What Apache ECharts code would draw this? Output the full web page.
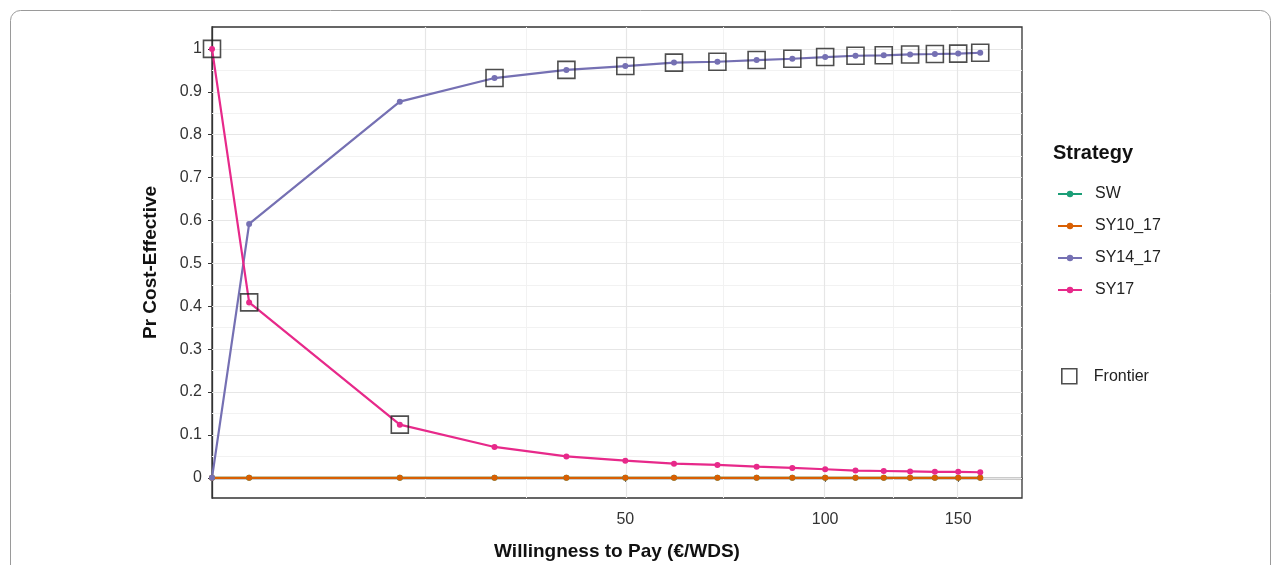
<!DOCTYPE html>
<html>
<head>
<meta charset="utf-8">
<script src="https://cdn.jsdelivr.net/npm/echarts@6/dist/echarts.min.js"></script>
<style>
  html, body { margin: 0; padding: 0; background: #fff; }
  #chart { width: 1281px; height: 565px; }
</style>
</head>
<body>
<div id="chart"></div>
<script>
// willingness to pay values (x)
const wtp = [0, 2.7, 16.6, 28.4, 39.4, 50, 60, 70, 80, 90, 100, 110, 120, 130, 140, 150, 160]
const strategies = ['SW', 'SY10_17', 'SY14_17', 'SY17']
const colors = ['#1B9E77', '#D95F02', '#7570B3', '#E7298A']
const sw = [0, 0, 0, 0, 0, 0, 0, 0, 0, 0, 0, 0, 0, 0, 0, 0, 0]
const sy10 = [0, 0, 0, 0, 0, 0, 0, 0, 0, 0, 0, 0, 0, 0, 0, 0, 0]
const sy14 = [0, 0.592, 0.877, 0.932, 0.951, 0.960, 0.968, 0.970, 0.974, 0.977, 0.981, 0.984, 0.985, 0.987, 0.988, 0.989, 0.991]
const sy17 = [1, 0.409, 0.124, 0.072, 0.050, 0.040, 0.033, 0.030, 0.026, 0.023, 0.020, 0.017, 0.016, 0.015, 0.014, 0.014, 0.013]
// strategy on the frontier at each wtp
const frontier = ['SY17', 'SY17', 'SY17', 'SY14_17', 'SY14_17', 'SY14_17', 'SY14_17', 'SY14_17', 'SY14_17',
  'SY14_17', 'SY14_17', 'SY14_17', 'SY14_17', 'SY14_17', 'SY14_17', 'SY14_17', 'SY14_17']
const xTicks = [50, 100, 150]
const yTicks = [0, 0.1, 0.2, 0.3, 0.4, 0.5, 0.6, 0.7, 0.8, 0.9, 1]

// x scale transform
const tx = v => Math.log(v + 28)
const values = { SW: sw, SY10_17: sy10, SY14_17: sy14, SY17: sy17 }

const font = 'Liberation Sans, Arial, sans-serif'

const xMajor = [2 * tx(50) - tx(100)].concat(xTicks.map(tx))
const xMinor = []
for (let i = 1; i < xMajor.length; i++) xMinor.push((xMajor[i - 1] + xMajor[i]) / 2)
const yMinor = []
for (let i = 1; i < yTicks.length; i++) yMinor.push((yTicks[i - 1] + yTicks[i]) / 2)

const minorStyle = { color: '#f2f2f2', width: 1, type: 'solid' }
const majorStyle = { color: '#e6e6e6', width: 1.2, type: 'solid' }
const gridLines = []
xMinor.forEach(v => gridLines.push({ xAxis: v, lineStyle: minorStyle }))
yMinor.forEach(v => gridLines.push({ yAxis: v, lineStyle: minorStyle }))
xMajor.forEach(v => gridLines.push({ xAxis: v, lineStyle: majorStyle }))
yTicks.forEach(v => gridLines.push({ yAxis: v, lineStyle: majorStyle }))

const series = [{
  name: 'grid',
  type: 'line',
  data: [],
  z: 1,
  silent: true,
  markLine: {
    z: 1,
    silent: true,
    animation: false,
    symbol: ['none', 'none'],
    label: { show: false },
    lineStyle: { type: 'solid' },
    emphasis: { disabled: true },
    data: gridLines
  }
}]

strategies.forEach((s, i) => {
  series.push({
    name: s,
    type: 'line',
    z: 3,
    data: wtp.map((w, j) => [tx(w), values[s][j]]),
    symbol: 'circle',
    symbolSize: 6,
    color: colors[i],
    lineStyle: { width: 2.2 },
    itemStyle: { color: colors[i] }
  })
})

series.push({
  name: 'Frontier',
  type: 'scatter',
  z: 4,
  data: wtp.map((w, j) => [tx(w), values[frontier[j]][j]]),
  symbol: 'rect',
  symbolSize: 17,
  itemStyle: { color: 'rgba(0,0,0,0)', borderColor: '#222', borderWidth: 1.6 }
})

const chart = echarts.init(document.getElementById('chart'))
chart.setOption({
  animation: false,
  backgroundColor: '#fff',
  textStyle: { fontFamily: font },
  graphic: [{
    type: 'rect',
    shape: { x: 10.5, y: 10.5, width: 1260, height: 620, r: 10 },
    style: { fill: 'none', stroke: '#9a9a9a', lineWidth: 1 },
    silent: true
  }, {
    type: 'text',
    left: 1053,
    top: 143,
    style: { text: 'Strategy', font: 'bold 20px ' + font, fill: '#111' }
  }],
  grid: {
    left: 212,
    right: 259,
    top: 27,
    bottom: 67,
    outerBoundsMode: 'none',
    containLabel: false,
    show: true,
    borderColor: '#333',
    borderWidth: 1.3,
    backgroundColor: '#fff'
  },
  legend: [{
    orient: 'vertical',
    left: 1052,
    top: 181,
    itemWidth: 24,
    itemHeight: 8,
    itemGap: 16,
    data: strategies,
    textStyle: { fontSize: 16, color: '#222', fontFamily: font, padding: [0, 0, 0, 8] }
  }, {
    orient: 'vertical',
    left: 1056,
    top: 363,
    itemWidth: 15,
    itemHeight: 15,
    data: [{ name: 'Frontier', icon: 'rect', itemStyle: { color: 'rgba(0,0,0,0)', borderColor: '#222', borderWidth: 1.6 } }],
    textStyle: { fontSize: 16, color: '#222', fontFamily: font, padding: [0, 0, 0, 12] }
  }],
  xAxis: {
    type: 'value',
    min: tx(0),
    max: tx(180.5),
    name: 'Willingness to Pay (€/WDS)',
    nameLocation: 'middle',
    nameGap: 44,
    nameTextStyle: { fontSize: 19, fontWeight: 'bold', color: '#111', fontFamily: font },
    axisLine: { show: true, lineStyle: { color: '#333', width: 1.3 } },
    axisTick: { show: true, length: 4, customValues: xTicks.map(tx), lineStyle: { color: '#333' } },
    axisLabel: {
      customValues: xTicks.map(tx),
      formatter: v => String(Math.round(Math.exp(v) - 28)),
      fontSize: 16,
      color: '#333',
      margin: 14
    },
    splitLine: { show: false }
  },
  yAxis: {
    type: 'value',
    min: -0.047,
    max: 1.051,
    name: 'Pr Cost-Effective',
    nameLocation: 'middle',
    nameGap: 52,
    nameTextStyle: { fontSize: 19, fontWeight: 'bold', color: '#111', fontFamily: font },
    axisLine: { show: true, lineStyle: { color: '#333', width: 1.3 } },
    axisTick: { show: true, length: 4, customValues: yTicks, lineStyle: { color: '#333' } },
    axisLabel: {
      customValues: yTicks,
      formatter: v => String(Math.round(v * 10) / 10),
      fontSize: 16,
      color: '#333',
      margin: 10
    },
    splitLine: { show: false }
  },
  series: series
})
</script>
</body>
</html>
